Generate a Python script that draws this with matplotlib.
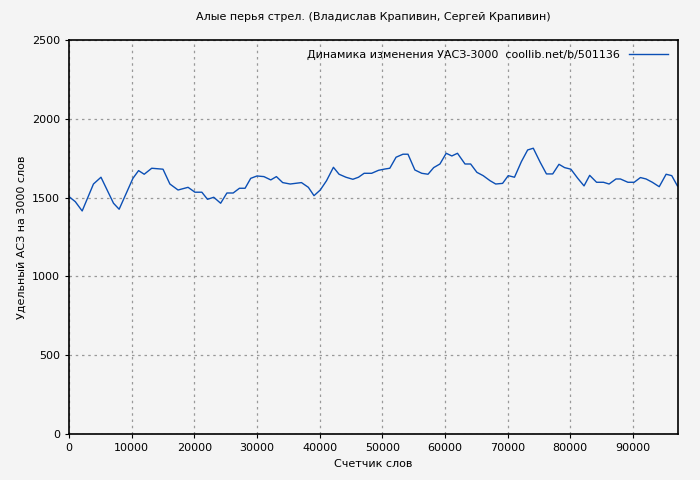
import matplotlib
matplotlib.use("Agg")
import matplotlib.pyplot as plt

# word counter vs specific sound value per 3000 words
words = [0, 1000, 2100, 3900, 5100, 7100, 8000, 10200, 11100, 12000, 13200, 15000,
         16100, 17400, 19000, 20100, 21200, 22100, 23100, 24200, 25200, 26200, 27200,
         28100, 29000, 30000, 31100, 32200, 33100, 34100, 35300, 37100, 38200, 39100,
         40100, 41100, 42200, 43100, 44200, 45300, 46200, 47100, 48300, 49400, 50400,
         51200, 52200, 53300, 54100, 55200, 56300, 57300, 58200, 59200, 60200, 61100,
         62000, 63200, 64100, 65100, 66100, 67200, 68100, 69200, 70100, 71100, 72200,
         73200, 74100, 75200, 76200, 77200, 78200, 79100, 80100, 81200, 82200, 83100,
         84200, 85300, 86200, 87300, 88000, 89200, 90200, 91200, 92100, 93100, 94200,
         95300, 96200, 97100]
values = [1506, 1474, 1415, 1586, 1629, 1464, 1426, 1622, 1671, 1648, 1686, 1680,
          1586, 1548, 1565, 1534, 1534, 1489, 1502, 1464, 1529, 1529, 1559,
          1559, 1622, 1637, 1633, 1612, 1633, 1595, 1586, 1595, 1565, 1512,
          1548, 1607, 1692, 1648, 1629, 1616, 1629, 1654, 1654, 1673, 1681,
          1686, 1756, 1775, 1775, 1675, 1654, 1648, 1690, 1713, 1781, 1764,
          1781, 1713, 1713, 1660, 1639, 1607, 1586, 1590, 1639, 1629, 1728,
          1802, 1813, 1724, 1650, 1650, 1711, 1690, 1680, 1622, 1574, 1641,
          1597, 1597, 1586, 1618, 1618, 1597, 1597, 1627, 1618, 1597, 1569,
          1648, 1639, 1574]

bg = "#f4f4f4"
fig = plt.figure(figsize=(7, 4.8), dpi=100, facecolor=bg)
ax = fig.add_axes([0.0986, 0.0958, 0.87, 0.821], facecolor=bg)

ax.plot(words, values, color="#0b4fb5", linewidth=1,
        label="Динамика изменения УАСЗ-3000  coollib.net/b/501136")
ax.set_xlim(0, 97200)
ax.set_ylim(0, 2500)
ax.set_xticks(range(0, 90001, 10000))
ax.set_yticks(range(0, 2501, 500))
ax.grid(True, color="#999999", linestyle=(0, (2, 3)), linewidth=0.9)
ax.tick_params(labelsize=8, length=3, direction="out")
for s in ax.spines.values():
    s.set_linewidth(1.2)

ax.set_title("Алые перья стрел. (Владислав Крапивин, Сергей Крапивин)", fontsize=8, pad=14)
ax.set_xlabel("Счетчик слов", fontsize=8)
ax.set_ylabel("Удельный АСЗ на 3000 слов", fontsize=8)
leg = ax.legend(loc="upper right", fontsize=8, frameon=False, markerfirst=False,
                handlelength=3.5)

fig.savefig("out.png", dpi=100, facecolor=bg)
